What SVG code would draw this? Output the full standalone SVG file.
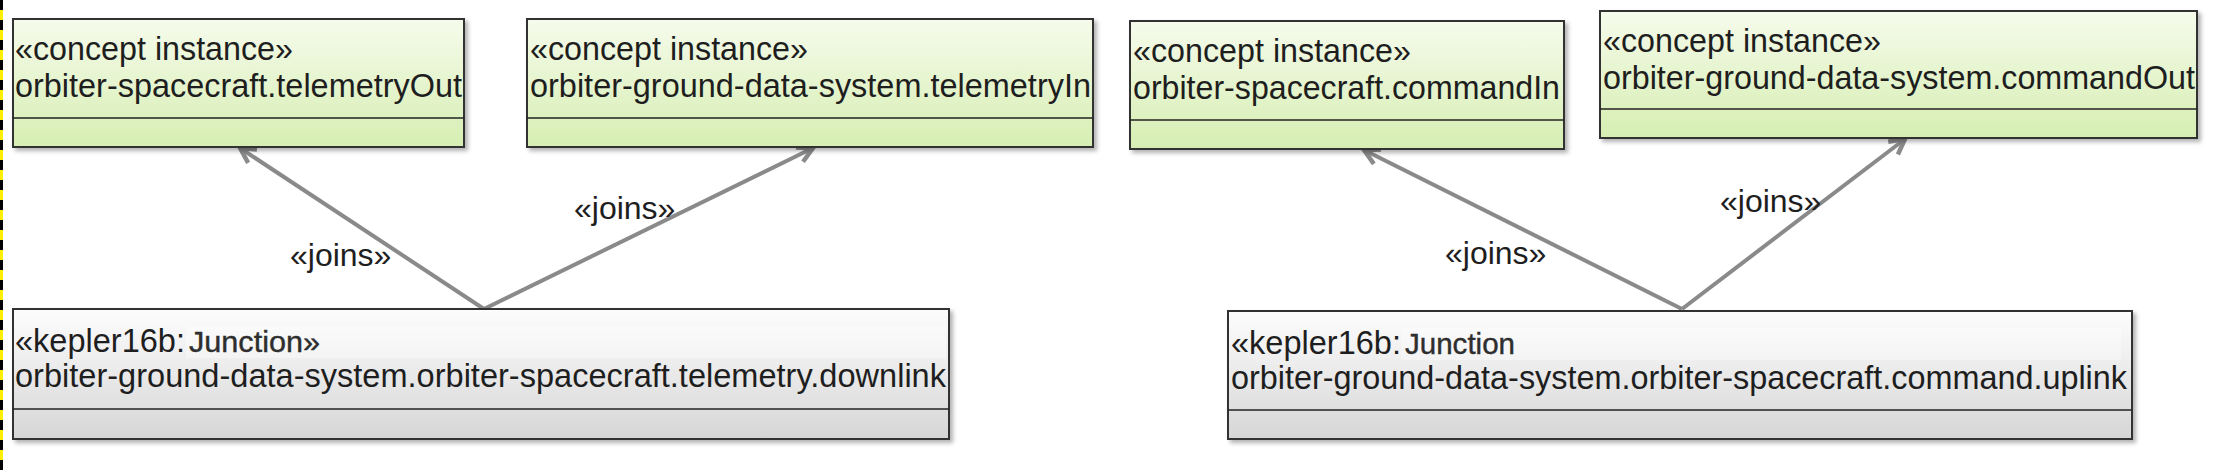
<svg xmlns="http://www.w3.org/2000/svg" width="2224" height="470" viewBox="0 0 2224 470">
<defs>
<linearGradient id="gGreen" x1="0" y1="0" x2="0" y2="1">
<stop offset="0" stop-color="#f6fbec"/>
<stop offset="1" stop-color="#d6eeb2"/>
</linearGradient>
<linearGradient id="gGray" x1="0" y1="0" x2="0" y2="1">
<stop offset="0" stop-color="#fdfdfd"/>
<stop offset="1" stop-color="#d6d6d6"/>
</linearGradient>
<filter id="shadow" x="-5%" y="-10%" width="110%" height="130%">
<feDropShadow dx="3" dy="3" stdDeviation="2" flood-color="#000" flood-opacity="0.3"/>
</filter>
<marker id="arrow" markerUnits="userSpaceOnUse" markerWidth="26" markerHeight="24" refX="22" refY="12" orient="auto">
<path d="M7,4 L22,12 L7,20" fill="none" stroke="#8a8a8a" stroke-width="4.5" stroke-linejoin="miter"/>
</marker>
</defs>
<style>
.box{stroke:#333;stroke-width:2;filter:url(#shadow)}
.green{fill:url(#gGreen)}
.gray{fill:url(#gGray)}
.div{stroke:#222;stroke-width:1.5}
.t{font-family:"Liberation Sans",Arial,sans-serif;font-size:33px;fill:#1e1e1e}
.j{font-family:"Liberation Sans",Arial,sans-serif;font-size:30px;fill:#2e2e2e;stroke:#2e2e2e;stroke-width:0.4}
.conn{stroke:#8a8a8a;stroke-width:4;fill:none;marker-end:url(#arrow)}
.lbl{font-family:"Liberation Sans",Arial,sans-serif;font-size:32px;fill:#1e1e1e}
</style>
<rect width="2224" height="470" fill="#ffffff"/>
<line x1="1.5" y1="0" x2="1.5" y2="470" stroke="#ffee00" stroke-width="3"/>
<line x1="1.5" y1="0" x2="1.5" y2="470" stroke="#000" stroke-width="3" stroke-dasharray="10,10"/>

<g id="connectors">
<line class="conn" x1="484" y1="309" x2="240" y2="148"/>
<line class="conn" x1="484" y1="309" x2="813" y2="148"/>
<line class="conn" x1="1682" y1="309" x2="1364" y2="150"/>
<line class="conn" x1="1682" y1="309" x2="1905" y2="139"/>
<text class="lbl" x="290" y="266">«joins»</text>
<text class="lbl" x="574" y="219">«joins»</text>
<text class="lbl" x="1445" y="264">«joins»</text>
<text class="lbl" x="1720" y="212">«joins»</text>
</g>

<g id="telemetryOut">
<rect class="box green" x="13" y="19" width="451" height="128"/>
<line class="div" x1="13" y1="118" x2="464" y2="118"/>
<text class="t" x="15" y="60" textLength="278" lengthAdjust="spacingAndGlyphs">«concept instance»</text>
<text class="t" x="15" y="97" textLength="447" lengthAdjust="spacingAndGlyphs">orbiter-spacecraft.telemetryOut</text>
</g>

<g id="telemetryIn">
<rect class="box green" x="527" y="19" width="566" height="128"/>
<line class="div" x1="527" y1="118" x2="1093" y2="118"/>
<text class="t" x="530" y="60" textLength="278" lengthAdjust="spacingAndGlyphs">«concept instance»</text>
<text class="t" x="530" y="97" textLength="561" lengthAdjust="spacingAndGlyphs">orbiter-ground-data-system.telemetryIn</text>
</g>

<g id="commandIn">
<rect class="box green" x="1130" y="21" width="434" height="128"/>
<line class="div" x1="1130" y1="120" x2="1564" y2="120"/>
<text class="t" x="1133" y="62" textLength="278" lengthAdjust="spacingAndGlyphs">«concept instance»</text>
<text class="t" x="1133" y="99" textLength="427" lengthAdjust="spacingAndGlyphs">orbiter-spacecraft.commandIn</text>
</g>

<g id="commandOut">
<rect class="box green" x="1600" y="11" width="597" height="127"/>
<line class="div" x1="1600" y1="109" x2="2197" y2="109"/>
<text class="t" x="1603" y="52" textLength="278" lengthAdjust="spacingAndGlyphs">«concept instance»</text>
<text class="t" x="1603" y="89" textLength="592" lengthAdjust="spacingAndGlyphs">orbiter-ground-data-system.commandOut</text>
</g>

<g id="downlink">
<rect class="box gray" x="13" y="309" width="936" height="130"/>
<rect x="186" y="326" width="760" height="32" fill="#ffffff" opacity="0.35"/>
<line class="div" x1="13" y1="409" x2="949" y2="409"/>
<text class="t" x="15" y="352" textLength="170" lengthAdjust="spacingAndGlyphs">«kepler16b:</text>
<text class="j" x="189" y="352" textLength="131" lengthAdjust="spacingAndGlyphs">Junction»</text>
<text class="t" x="15" y="387" textLength="931" lengthAdjust="spacingAndGlyphs">orbiter-ground-data-system.orbiter-spacecraft.telemetry.downlink</text>
</g>

<g id="uplink">
<rect class="box gray" x="1228" y="311" width="904" height="128"/>
<rect x="1401" y="328" width="720" height="32" fill="#ffffff" opacity="0.35"/>
<line class="div" x1="1228" y1="410" x2="2132" y2="410"/>
<text class="t" x="1231" y="354" textLength="170" lengthAdjust="spacingAndGlyphs">«kepler16b:</text>
<text class="j" x="1405" y="354" textLength="110" lengthAdjust="spacingAndGlyphs">Junction</text>
<text class="t" x="1231" y="389" textLength="896" lengthAdjust="spacingAndGlyphs">orbiter-ground-data-system.orbiter-spacecraft.command.uplink</text>
</g>
</svg>
